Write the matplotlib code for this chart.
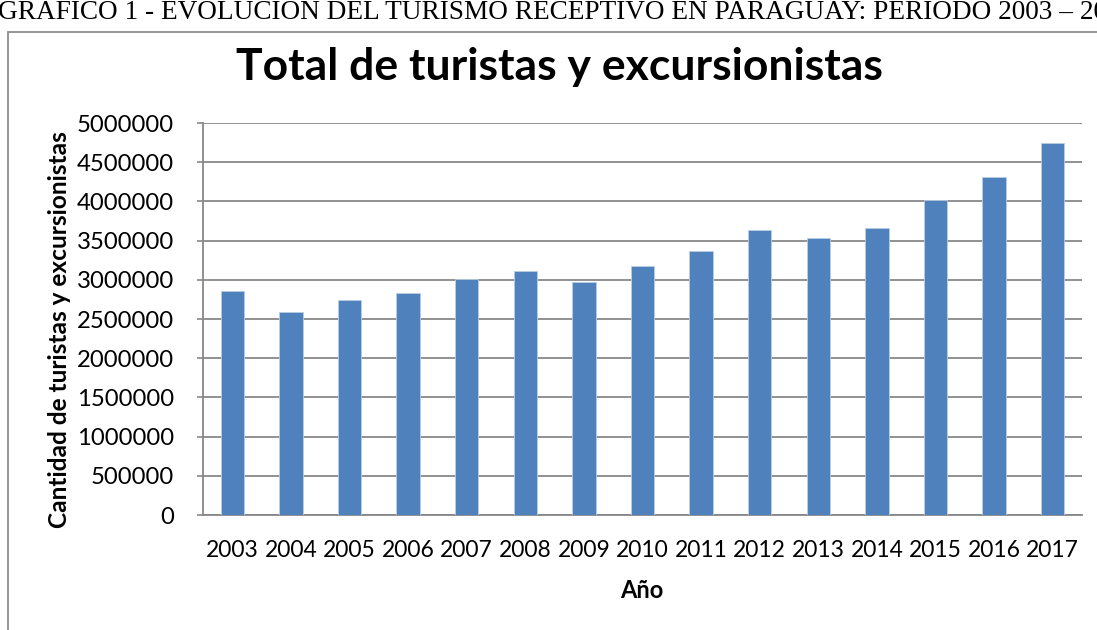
import matplotlib
matplotlib.use("Agg")
import matplotlib.pyplot as plt
from matplotlib.patches import Rectangle

years = ["2003", "2004", "2005", "2006", "2007", "2008", "2009", "2010",
         "2011", "2012", "2013", "2014", "2015", "2016", "2017"]
visitors = [2857000, 2589000, 2738000, 2828000, 3006000, 3116000, 2968000,
            3170000, 3361000, 3638000, 3536000, 3660000, 4017000, 4315000, 4740000]
yticks = [0, 500000, 1000000, 1500000, 2000000, 2500000, 3000000,
          3500000, 4000000, 4500000, 5000000]

title = "Total de turistas y excursionistas"
ylabel = "Cantidad de turistas y excursionistas"
xlabel = "Año"
caption = "GRÁFICO 1 - EVOLUCIÓN DEL TURISMO RECEPTIVO EN PARAGUAY: PERÍODO 2003 – 2017"

W, H = 1097, 630
fig = plt.figure(figsize=(W / 100, H / 100), dpi=100)
fig.patch.set_facecolor("white")

def fx(px):
    return px / W

def fy(py):
    return 1 - py / H

# outer chart frame
fig.patches.append(Rectangle((fx(8), fy(660)), fx(1110) - fx(8), fy(32) - fy(660),
                             transform=fig.transFigure, fill=False,
                             edgecolor="#8c8c8c", linewidth=1.3, zorder=0))

# caption (cut off at top)
fig.text(fx(-2), fy(19), caption, family="Liberation Serif", fontsize=19.6,
         ha="left", va="baseline", color="black")

ax = fig.add_axes([fx(203), fy(515), fx(1082) - fx(203), fy(123) - fy(515)])
x = list(range(len(years)))
ax.bar(x, visitors, width=0.4, color="#4F81BD", edgecolor="#b9cde5",
       linewidth=0.6, zorder=3)
ax.set_xlim(-0.5, len(years) - 0.5)
ax.set_ylim(0, 5000000)
ax.set_yticks(yticks)
ax.set_yticklabels([str(v) for v in yticks])
ax.set_xticks(x)
ax.set_xticklabels(years)
ax.yaxis.grid(True, color="#888888", linewidth=1.3, zorder=1)
ax.set_axisbelow(True)
for s in ["top", "right"]:
    ax.spines[s].set_visible(False)
for s in ["left", "bottom"]:
    ax.spines[s].set_color("#888888")
    ax.spines[s].set_linewidth(1.3)
ax.tick_params(axis="y", length=4, color="#888888", width=1.2, pad=17,
               labelsize=17.2, labelfontfamily="Lato")
ax.tick_params(axis="x", length=0, pad=18, labelsize=16.5, labelfontfamily="Lato")

fig.text(fx(559), fy(80), title, family="Lato", fontweight="bold", fontsize=32,
         ha="center", va="baseline")
fig.text(fx(60), fy(330), ylabel, family="Lato", fontweight="bold", fontsize=17.6,
         rotation=90, ha="center", va="center")
fig.text(fx(642), fy(590), xlabel, family="Lato", fontweight="bold", fontsize=17,
         ha="center", va="center")

fig.savefig("out.png", dpi=100)
